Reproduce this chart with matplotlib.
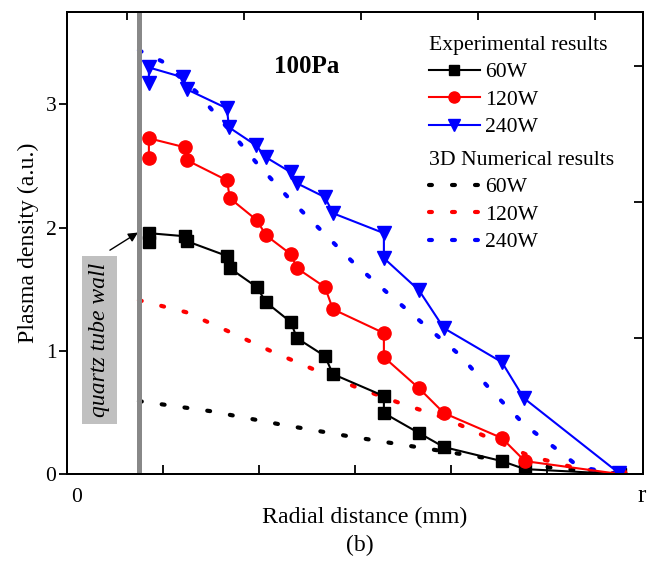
import numpy as np
import matplotlib
matplotlib.use('Agg')
import matplotlib.pyplot as plt
from matplotlib.lines import Line2D

plt.rcParams['font.family'] = ['Liberation Serif', 'DejaVu Serif']

# ---- data (x in tick units 0..6, r = 6) ----
# experimental results
x_exp = [0.854, 0.854, 1.229, 1.25, 1.667, 1.698, 1.979, 2.073, 2.333, 2.396,
         2.688, 2.771, 3.302, 3.302, 3.667, 3.927, 4.531, 4.771, 5.76]
y_60w = [1.88, 1.955, 1.93, 1.89, 1.77, 1.67, 1.517, 1.395, 1.233, 1.103,
         0.957, 0.811, 0.633, 0.495, 0.333, 0.219, 0.105, 0.04, 0.0]
y_120w = [2.563, 2.725, 2.652, 2.547, 2.384, 2.238, 2.06, 1.938, 1.784, 1.671,
          1.517, 1.338, 1.144, 0.949, 0.697, 0.495, 0.292, 0.105, 0.0]
x_240w = [0.854, 0.854, 1.208, 1.25, 1.667, 1.688, 1.969, 2.073, 2.333, 2.396,
          2.688, 2.771, 3.302, 3.302, 3.667, 3.927, 4.531, 4.76, 5.75]
y_240w = [3.171, 3.30, 3.22, 3.122, 2.968, 2.814, 2.668, 2.571, 2.449, 2.36,
          2.247, 2.117, 1.955, 1.752, 1.492, 1.184, 0.908, 0.616, 0.008]

# 3D numerical results
xn_60w = [0.75, 1.49, 2.208, 2.927, 3.646, 4.365, 5.07, 5.76]
yn_60w = [0.592, 0.511, 0.405, 0.308, 0.219, 0.130, 0.049, 0.0]
xn_120w = [0.75, 1.24, 1.677, 2.125, 2.5625, 3.01, 3.469, 3.9375, 4.375, 4.823, 5.30, 5.76]
yn_120w = [1.411, 1.314, 1.16, 0.998, 0.852, 0.706, 0.576, 0.454, 0.30, 0.146, 0.049, 0.0]
xn_240w = [0.75, 0.99, 1.354, 1.667, 1.979, 2.302, 2.646, 2.99, 3.354, 3.729,
           4.094, 4.417, 4.771, 5.156, 5.333, 5.76]
yn_240w = [3.439, 3.35, 3.098, 2.814, 2.522, 2.247, 1.979, 1.711, 1.46, 1.208,
           0.965, 0.681, 0.397, 0.170, 0.057, 0.0]

wall_x = 0.75

fig = plt.figure(figsize=(6.56, 5.61), dpi=100)
ax = fig.add_axes([0.102, 0.155, 0.878, 0.8236])

dots = (0, (0.7, 4.82))
num_kw = dict(lw=3, linestyle=dots, dash_capstyle='round')
ax.plot(xn_60w, yn_60w, color='black', **num_kw)
ax.plot(xn_120w, yn_120w, color='red', **num_kw)
ax.plot(xn_240w, yn_240w, color='blue', **num_kw)

ax.plot(x_exp, y_60w, color='black', lw=1.5, marker='s', ms=8.5)
ax.plot(x_exp, y_120w, color='red', lw=1.5, marker='o', ms=9.5)
ax.plot(x_240w, y_240w, color='blue', lw=1.5, marker='v', ms=10)

ax.axvline(wall_x, color='#888888', lw=3.6, zorder=5)

ax.set_xlim(0, 6)
ax.set_ylim(0, 3.75)
ax.set_xticks([1, 2, 3, 4, 5])
ax.set_xticklabels([])
ax.set_yticks([0, 1, 2, 3])
ax.tick_params(axis='y', direction='out', length=5.5, width=1.3, labelsize=15.5, pad=2)
ax.tick_params(axis='x', direction='in', length=6.5, width=1.3)
for s in ax.spines.values():
    s.set_linewidth(1.4)

# top and right ticks
axt = ax.twiny()
axt.set_xlim(-0.513, 4.41)
axt.set_xticks([0, 1, 2, 3, 4])
axt.set_xticklabels([])
axt.tick_params(axis='x', direction='in', length=5.5, width=1.3)
axr = ax.twinx()
axr.set_ylim(0, 3.397)
axr.set_yticks([1, 2, 3])
axr.set_yticklabels([])
axr.tick_params(axis='y', direction='in', length=6.5, width=1.3)
for a in (axt, axr):
    for s in a.spines.values():
        s.set_linewidth(1.4)

ax.text(0.017, -0.05, '0', transform=ax.transAxes, ha='center', va='center', fontsize=15.5)
ax.text(0.998, -0.047, 'r', transform=ax.transAxes, ha='center', va='center', fontsize=18)

ax.set_ylabel('Plasma density (a.u.)', fontsize=17.2)
ax.yaxis.set_label_coords(-0.048, 0.5)
ax.set_xlabel('Radial distance (mm)', fontsize=17.2)
ax.xaxis.set_label_coords(0.517, -0.071)
fig.text(360 / 656, 1 - 545 / 561, '(b)', ha='center', va='center', fontsize=17)

ax.text(0.417, 0.883, '100Pa', transform=ax.transAxes, ha='center', va='center',
        fontsize=18, fontweight='bold')

ax.text(0.0565, 0.29, 'quartz tube wall', transform=ax.transAxes, rotation=90,
        ha='center', va='center', fontsize=17, style='italic',
        bbox=dict(boxstyle='square,pad=0.3', fc='#c0c0c0', ec='none'))
ax.annotate('', xy=(0.74, 1.96), xytext=(0.448, 1.817),
            arrowprops=dict(arrowstyle='-|>', color='black', lw=1, mutation_scale=14,
                            shrinkA=0, shrinkB=0))

# legends
h_exp = [Line2D([], [], color='black', lw=1.5, marker='s', ms=7),
         Line2D([], [], color='red', lw=1.5, marker='o', ms=8),
         Line2D([], [], color='blue', lw=1.5, marker='v', ms=8.5)]
h_num = [Line2D([], [], color=c, **num_kw) for c in ('black', 'red', 'blue')]
labels = ['60W', '120W', '240W']
leg_kw = dict(loc='upper left', frameon=False, fontsize=15.6, title_fontsize=15.6,
              alignment='left', borderpad=0, borderaxespad=0, handlelength=2.35,
              handletextpad=0.25, labelspacing=0.34)
leg1 = axr.legend(h_exp, labels, title='Experimental results',
                  bbox_to_anchor=(0.628, 0.949), **leg_kw)
axr.add_artist(leg1)
axr.legend(h_num, labels, title='3D Numerical results',
           bbox_to_anchor=(0.628, 0.70), **leg_kw)

fig.savefig('out.png', dpi=100)
